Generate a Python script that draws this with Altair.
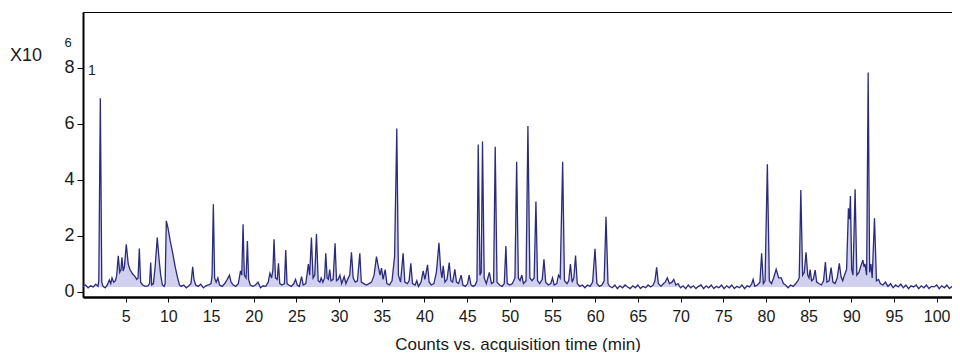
import altair as alt
import pandas as pd

# Retention time (min) and counts (x10^6)
seg_a_time = [0.0, 0.3, 0.6, 0.9, 1.2, 1.5, 1.75, 1.85, 2.03, 2.2, 2.35, 2.6, 2.85, 3.08, 3.25, 3.4, 3.6, 3.8, 3.95,
              4.13, 4.3, 4.45, 4.56, 4.7, 4.85, 5.07, 5.3, 5.5, 5.8, 6.1, 6.3, 6.45, 6.6, 6.75, 7.0, 7.3, 7.6, 7.8,
              7.93, 8.05, 8.25, 8.45, 8.7, 8.9, 9.1, 9.3, 9.5, 9.62, 9.76, 9.95, 10.2, 10.5, 10.8, 11.05, 11.3, 11.5,
              11.8, 12.1, 12.4, 12.65, 12.85, 13.0, 13.2, 13.5, 13.8, 14.1, 14.4, 14.7, 15.0, 15.12, 15.27, 15.42,
              15.6, 15.8, 16.0, 16.3, 16.6, 16.9, 17.15, 17.35, 17.6, 17.9, 18.2, 18.45, 18.6, 18.75, 18.9, 19.1,
              19.26, 19.4, 19.6, 19.9, 20.2, 20.5, 20.8, 21.1, 21.4, 21.7, 21.9, 22.1, 22.25, 22.38, 22.55, 22.75,
              22.9, 23.05, 23.3, 23.6, 23.75, 23.9, 24.1, 24.4, 24.7, 24.9, 25.1]
seg_a_counts = [0.2, 0.25, 0.15, 0.22, 0.18, 0.28, 0.2, 0.4, 6.92, 0.35, 0.2, 0.15, 0.25, 0.43, 0.3, 0.5, 0.35, 0.4, 0.6,
                1.29, 0.7, 0.8, 1.24, 0.75, 0.9, 1.70, 1.0, 0.8, 0.65, 0.55, 0.45, 0.5, 1.55, 0.35, 0.25, 0.2, 0.22, 0.3,
                1.05, 0.25, 0.3, 0.9, 1.94, 1.2, 0.6, 0.25, 0.2, 0.3, 2.54, 2.3, 1.85, 1.4, 0.9, 0.55, 0.25, 0.2,
                0.25, 0.15, 0.22, 0.3, 0.9, 0.45, 0.25, 0.2, 0.28, 0.15, 0.22, 0.25, 0.3, 0.6, 3.13, 0.5,
                0.35, 0.5, 0.25, 0.2, 0.3, 0.45, 0.6, 0.35, 0.25, 0.2, 0.3, 0.75, 0.6, 2.42, 0.6, 0.5,
                1.82, 0.45, 0.25, 0.2, 0.25, 0.35, 0.15, 0.22, 0.2, 0.35, 0.67, 0.5, 0.8, 1.88, 0.5, 0.45,
                1.02, 0.3, 0.25, 0.3, 1.5, 0.3, 0.25, 0.2, 0.3, 0.45, 0.25]

seg_b_time = [25.35, 25.6, 25.8, 26.1, 26.4, 26.55, 26.76, 26.95, 27.15, 27.35, 27.55, 27.75, 27.9, 28.1, 28.3, 28.44,
              28.6, 28.75, 28.9, 29.05, 29.3, 29.53, 29.7, 29.9, 30.1, 30.3, 30.6, 30.8, 31.0, 31.25, 31.45, 31.65,
              31.9, 32.15, 32.43, 32.6, 32.9, 33.2, 33.5, 33.8, 34.1, 34.38, 34.6, 34.8, 34.97, 35.15, 35.4, 35.6,
              35.9, 36.2, 36.5, 36.76, 36.95, 37.2, 37.5, 37.7, 38.0, 38.2, 38.4, 38.6, 38.9, 39.1, 39.3, 39.6,
              39.85, 40.05, 40.36, 40.55, 40.8, 41.1, 41.4, 41.7, 41.9, 42.05, 42.2, 42.4, 42.65, 42.9, 43.1, 43.3,
              43.56, 43.75, 44.0, 44.3, 44.5, 44.8, 45.05, 45.24, 45.45, 45.7, 45.95, 46.15, 46.3, 46.5, 46.65,
              46.8, 47.0, 47.25, 47.6, 47.85, 48.1, 48.29, 48.5, 48.8, 49.1, 49.35, 49.54, 49.7, 50.0]
seg_b_counts = [0.2, 0.55, 0.25, 0.3, 1.0, 0.6, 1.94, 0.5, 0.6, 2.07, 0.4, 0.35, 0.5, 0.35, 0.5, 1.38,
                0.5, 0.45, 0.8, 0.4, 0.45, 1.74, 0.4, 0.45, 0.6, 0.3, 0.55, 0.3, 0.45, 0.6, 1.42, 0.5,
                0.35, 0.4, 1.38, 0.35, 0.3, 0.25, 0.3, 0.35, 0.6, 1.26, 0.9, 0.6, 0.85, 0.45, 0.8, 0.3,
                0.25, 0.4, 1.26, 5.84, 0.6, 0.35, 1.38, 0.35, 0.3, 0.4, 1.02, 0.3, 0.25, 0.4, 0.2, 0.35,
                0.75, 0.45, 0.97, 0.35, 0.25, 0.3, 0.7, 1.76, 0.8, 0.5, 0.93, 0.35, 0.45, 1.05, 0.4, 0.35,
                0.81, 0.35, 0.3, 0.6, 0.25, 0.2, 0.3, 0.6, 0.25, 0.2, 0.25, 0.4, 5.27, 0.6, 0.7,
                5.37, 0.5, 0.3, 0.7, 0.3, 0.35, 5.19, 0.35, 0.25, 0.2, 0.3, 1.64, 0.3, 0.25]

seg_c_time = [50.3, 50.6, 50.8, 51.0, 51.2, 51.4, 51.6, 51.9, 52.12, 52.35, 52.6, 52.85, 53.06, 53.25, 53.5, 53.8,
              54.0, 54.2, 54.5, 54.8, 55.0, 55.2, 55.5, 55.7, 55.9, 56.19, 56.4, 56.7, 56.9, 57.1, 57.3, 57.5,
              57.7, 57.9, 58.2, 58.5, 58.8, 59.1, 59.4, 59.7, 59.98, 60.2, 60.5, 60.8, 61.05, 61.27, 61.5, 61.7,
              62.0, 62.3, 62.6, 62.9, 63.2, 63.5, 63.8, 64.1, 64.4, 64.7, 65.0, 65.3, 65.6, 65.9, 66.2, 66.5,
              66.8, 67.0, 67.2, 67.4, 67.7, 68.0, 68.2, 68.45, 68.7, 69.0, 69.2, 69.45, 69.7, 70.0, 70.3, 70.6,
              70.9, 71.2, 71.5, 71.8, 72.1, 72.4, 72.7, 73.0, 73.3, 73.6, 73.9, 74.2, 74.5, 74.8]
seg_c_counts = [0.3, 0.5, 4.65, 0.5, 0.4, 0.6, 0.3, 0.4, 5.93, 0.5, 0.4, 0.5, 3.23, 0.4, 0.3, 0.45,
                1.17, 0.35, 0.25, 0.3, 0.5, 0.25, 0.3, 0.6, 0.5, 4.65, 0.4, 0.3, 0.4, 1.0, 0.35, 0.5,
                1.3, 0.3, 0.2, 0.25, 0.15, 0.25, 0.2, 0.35, 1.54, 0.3, 0.2, 0.25, 0.4, 2.69, 0.3, 0.2,
                0.15, 0.25, 0.12, 0.22, 0.15, 0.25, 0.18, 0.12, 0.22, 0.15, 0.25, 0.12, 0.2, 0.15, 0.25, 0.18,
                0.25, 0.4, 0.88, 0.3, 0.2, 0.3, 0.35, 0.5, 0.3, 0.35, 0.45, 0.25, 0.3, 0.15, 0.22, 0.12,
                0.25, 0.15, 0.22, 0.12, 0.2, 0.25, 0.12, 0.22, 0.15, 0.25, 0.12, 0.2, 0.15, 0.25]

seg_d_time = [75.1, 75.4, 75.7, 76.0, 76.3, 76.6, 76.9, 77.2, 77.5, 77.8, 78.1, 78.35, 78.5, 78.7, 79.0, 79.3,
              79.5, 79.7, 79.9, 80.17, 80.4, 80.65, 80.9, 81.2, 81.5, 81.8, 82.05, 82.3, 82.6, 82.9, 83.2, 83.5,
              83.75, 83.9, 84.09, 84.3, 84.5, 84.7, 84.9, 85.05, 85.18, 85.35, 85.55, 85.77, 85.95, 86.2, 86.5,
              86.75, 86.97, 87.15, 87.4, 87.64, 87.85, 88.1, 88.35, 88.6, 88.8, 89.0, 89.2, 89.45, 89.67, 89.8,
              89.9, 90.05, 90.2, 90.45, 90.65, 90.9, 91.1, 91.36, 91.5, 91.6, 91.8, 91.98, 92.15, 92.3, 92.45,
              92.72, 92.95, 93.2, 93.4, 93.7, 94.0, 94.3, 94.6, 94.9, 95.2, 95.5, 95.8, 96.1, 96.4, 96.7, 97.0,
              97.3, 97.6, 97.9, 98.2, 98.5, 98.8, 99.1, 99.4, 99.7, 100.0, 100.3, 100.6, 100.9, 101.2, 101.5,
              101.8, 102.1, 102.5]
seg_d_counts = [0.12, 0.22, 0.15, 0.25, 0.12, 0.2, 0.15, 0.25, 0.12, 0.22, 0.18, 0.3, 0.45, 0.2, 0.25, 0.35,
                1.38, 0.3, 0.4, 4.56, 0.4, 0.3, 0.5, 0.81, 0.5, 0.5, 0.3, 0.25, 0.15, 0.25, 0.2, 0.3,
                0.4, 0.5, 3.64, 0.6, 0.7, 1.42, 0.6, 0.5, 0.8, 0.4, 0.45, 0.78, 0.35, 0.3, 0.25,
                0.4, 1.07, 0.35, 0.4, 0.87, 0.35, 0.3, 0.5, 1.02, 0.55, 0.4, 0.6, 0.8, 2.99, 2.6,
                3.43, 0.8, 0.6, 3.67, 0.6, 0.7, 0.9, 1.14, 0.9, 1.0, 0.6, 7.84, 0.7, 1.0, 0.5,
                2.63, 0.4, 0.45, 0.3, 0.25, 0.35, 0.2, 0.3, 0.15, 0.25, 0.18, 0.28, 0.15, 0.25, 0.12, 0.22,
                0.18, 0.25, 0.12, 0.22, 0.15, 0.25, 0.12, 0.2, 0.18, 0.25, 0.12, 0.22, 0.15, 0.25, 0.12,
                0.2, 0.18, 0.22]

x_ticks = [5, 10, 15, 20, 25, 30, 35, 40, 45, 50, 55, 60, 65, 70, 75, 80, 85, 90, 95, 100]
y_ticks = [0, 2, 4, 6, 8]

df = pd.DataFrame({
    "t": seg_a_time + seg_b_time + seg_c_time + seg_d_time,
    "y": seg_a_counts + seg_b_counts + seg_c_counts + seg_d_counts,
})

FONT = "Liberation Sans"
xscale = alt.Scale(domain=[0, 101.8], nice=False, zero=False)
yscale = alt.Scale(domain=[-0.18, 10], nice=False, zero=False)

base = alt.Chart(df)

area = base.mark_area(color="#bdbde8", opacity=0.7, clip=True).encode(
    x=alt.X("t:Q", scale=xscale,
            axis=alt.Axis(values=x_ticks, title="Counts vs. acquisition time (min)", grid=False,
                          domainColor="black", domainWidth=2.5, tickColor="black", tickSize=5,
                          labelFontSize=16, labelColor="#1a1a1a", labelFont=FONT, labelPadding=6,
                          labelFlush=False, labelOverlap=False,
                          titleFont=FONT, titleFontSize=17, titleFontWeight="normal",
                          titleColor="#1a1a1a", titlePadding=12)),
    y=alt.Y("y:Q", scale=yscale,
            axis=alt.Axis(values=y_ticks, title=None, grid=False, domainColor="black", domainWidth=2,
                          tickColor="black", tickSize=6, labelFontSize=18, labelColor="#1a1a1a",
                          labelFont=FONT, labelPadding=3)),
    y2=alt.datum(0.18),
)

line = base.mark_line(color="#2b2b7c", strokeWidth=1.3, clip=True).encode(
    x=alt.X("t:Q", scale=xscale),
    y=alt.Y("y:Q", scale=yscale),
)

lbl_main = alt.Chart(pd.DataFrame({"s": ["X10"]})).mark_text(
    font=FONT, fontSize=18, color="#1a1a1a", align="left", baseline="middle"
).encode(x=alt.value(-73), y=alt.value(44), text="s:N")

lbl_exp = alt.Chart(pd.DataFrame({"s": ["6"]})).mark_text(
    font=FONT, fontSize=13, color="#1a1a1a", align="center", baseline="middle"
).encode(x=alt.value(-15), y=alt.value(31), text="s:N")

lbl_one = alt.Chart(pd.DataFrame({"s": ["1"]})).mark_text(
    font=FONT, fontSize=14, color="#1a1a1a", align="center", baseline="middle"
).encode(x=alt.value(9), y=alt.value(59), text="s:N")

chart = alt.layer(area, line, lbl_main, lbl_exp, lbl_one).properties(
    width=869, height=285,
    autosize=alt.AutoSizeParams(type="none"),
    padding={"left": 75, "top": 4, "right": 0, "bottom": 55},
    background="white",
).configure_view(stroke="black", strokeWidth=1)

chart.save("out.html", embed_options={"renderer": "svg", "actions": False})
